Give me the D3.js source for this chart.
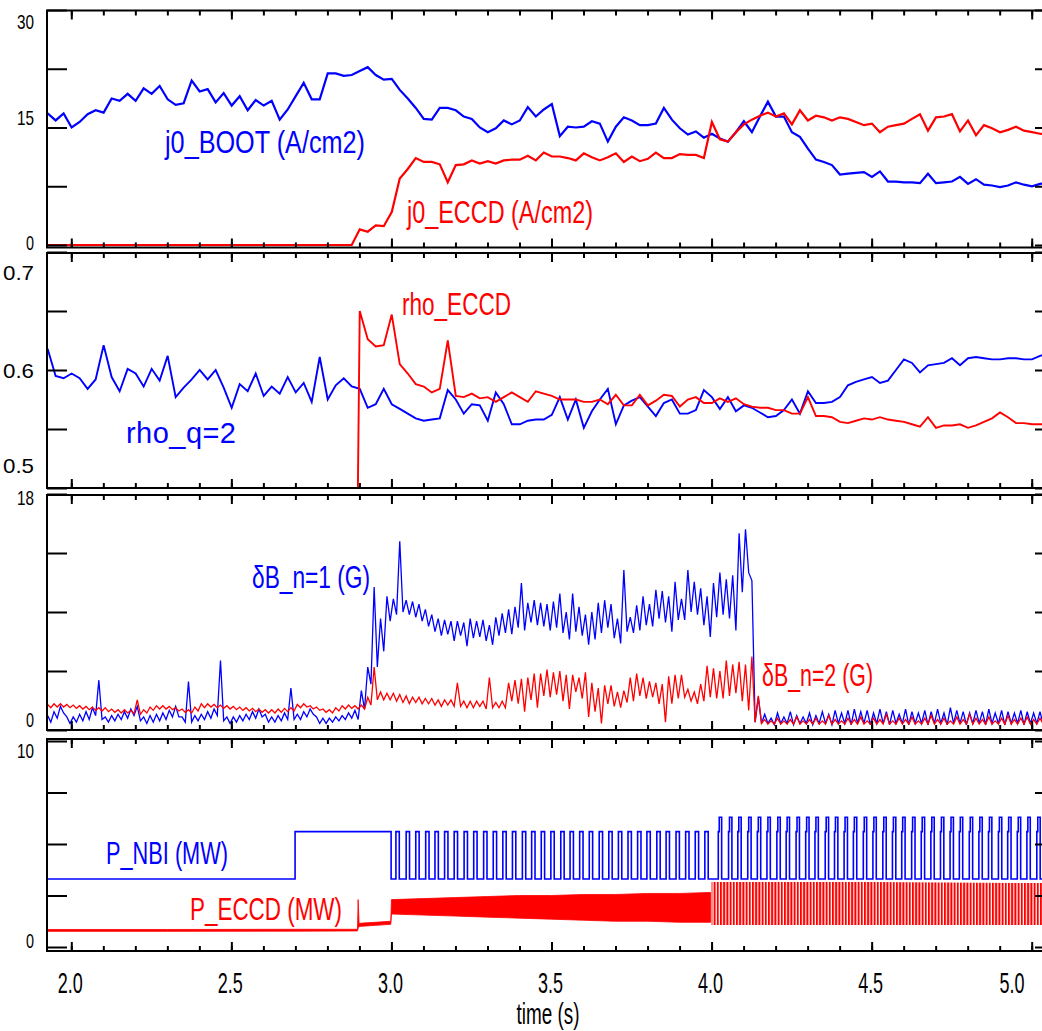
<!DOCTYPE html>
<html><head><meta charset="utf-8">
<script src="https://cdn.jsdelivr.net/npm/d3@7"></script>
<style>html,body{margin:0;padding:0;background:#fff;} svg{display:block;}</style>
</head><body>
<svg id="chart" width="1042" height="1031"></svg>
<script>
// ---------------- DATA ----------------
// slow diagnostics sampled every 25 ms starting at 1.926 s
const slowT0 = 1.926, slowDt = 0.025;
const j0Boot = [16.8,15.9,16.8,15.0,15.7,16.7,17.2,16.9,18.7,18.4,
 19.3,18.4,20.0,19.3,20.3,18.6,17.9,18.1,21.0,19.6,
 19.9,18.2,19.4,17.8,19.0,17.2,18.5,17.8,18.4,16.0,
 17.3,19.0,20.7,18.6,18.6,21.9,21.9,21.6,21.7,22.2,
 22.7,21.7,21.1,21.2,19.8,18.7,17.5,16.1,16.0,17.5,
 17.5,17.2,16.4,16.1,15.0,14.4,14.9,15.9,15.4,15.9,
 17.6,16.4,17.3,18.0,13.9,15.1,15.0,15.1,15.8,15.5,
 13.2,15.1,16.3,15.9,15.3,15.3,15.5,17.5,16.0,14.9,
 14.1,14.5,13.7,14.2,13.6,13.2,14.4,15.8,14.4,16.4,
 18.3,16.4,16.4,14.4,13.8,12.3,10.9,10.6,10.2,9.0,
 9.1,9.2,9.3,8.7,9.4,8.1,8.1,8.0,8.0,7.9,
 9.1,7.9,8.0,8.1,8.7,7.8,8.4,7.7,7.6,7.4,
 7.6,8.0,7.7,7.5,7.8,8.0,7.9];
const j0Eccd = [0,0,0,0,0,0,0,0,0,0, 0,0,0,0,0,0,0,0,0,0,
 0,0,0,0,0,0,0,0,0,0, 0,0,0,0,0,0,0,0,0,
 2.0,1.7,2.5,2.4,4.2,8.5,9.7,11.1,10.6,10.6,10.3,
 8.0,10.2,10.3,10.8,10.4,10.7,10.4,10.8,10.9,10.9,
 11.4,10.8,11.8,11.3,11.3,11.1,10.8,11.7,11.2,10.8,
 11.2,11.7,10.6,11.3,10.7,11.0,11.8,11.1,11.1,11.6,
 11.5,11.5,11.1,15.7,13.5,13.2,14.4,15.4,16.0,16.5,
 16.9,16.4,16.8,15.4,17.2,15.9,16.5,16.3,15.9,16.3,
 16.1,15.7,15.3,15.5,14.4,15.1,15.3,15.5,16.1,16.7,
 14.6,16.3,16.4,16.7,14.5,15.9,14.0,15.3,14.9,14.4,
 14.7,15.1,14.6,14.4,14.2,14.1,14.1];
const rhoQ2 = [0.618,0.595,0.593,0.597,0.593,0.584,0.592,0.621,0.594,0.582,
 0.601,0.597,0.586,0.601,0.591,0.612,0.577,0.585,0.592,0.600,
 0.592,0.600,0.585,0.568,0.588,0.582,0.597,0.578,0.586,0.580,
 0.594,0.581,0.589,0.573,0.611,0.575,0.587,0.593,0.586,0.584,
 0.568,0.571,0.584,0.571,0.567,0.563,0.559,0.557,0.558,0.559,
 0.583,0.575,0.563,0.571,0.570,0.557,0.581,0.571,0.554,0.554,
 0.557,0.558,0.558,0.562,0.577,0.558,0.575,0.551,0.565,0.575,
 0.584,0.554,0.570,0.574,0.577,0.569,0.561,0.572,0.575,0.563,
 0.563,0.566,0.583,0.577,0.567,0.577,0.565,0.570,0.568,0.564,
 0.560,0.561,0.566,0.575,0.563,0.582,0.572,0.572,0.573,0.577,
 0.587,0.590,0.592,0.594,0.589,0.591,0.600,0.609,0.606,0.598,
 0.604,0.605,0.606,0.610,0.604,0.610,0.611,0.610,0.609,0.609,
 0.610,0.610,0.609,0.609,0.612,0.614,0.614];
const rhoEccd = [0,0,0,0,0,0,0,0,0,0, 0,0,0,0,0,0,0,0,0,0,
 0,0,0,0,0,0,0,0,0,0, 0,0,0,0,0,0,0,0,0,
 0.650,0.626,0.620,0.621,0.647,0.605,0.597,0.588,0.586,0.581,0.584,
 0.625,0.578,0.577,0.580,0.576,0.577,0.573,0.577,0.581,0.577,
 0.573,0.582,0.580,0.578,0.575,0.575,0.575,0.573,0.573,0.575,
 0.571,0.579,0.570,0.570,0.579,0.570,0.574,0.579,0.578,0.569,
 0.575,0.577,0.572,0.572,0.576,0.573,0.576,0.571,0.569,0.568,
 0.568,0.566,0.566,0.563,0.563,0.577,0.561,0.561,0.560,0.556,
 0.555,0.557,0.559,0.558,0.560,0.558,0.557,0.556,0.554,0.552,
 0.560,0.551,0.553,0.553,0.554,0.551,0.553,0.556,0.559,0.564,
 0.560,0.555,0.555,0.554,0.554,0.554,0.554];

// magnetics: per-20 ms bin min / max, bins starting at 1.926 s
const binT0 = 1.926, binDt = 0.02;
const dbn1Lo = [0.6,0.9,1.3,0.5,0.6,0.7,0.8,1.1,0.8,0.6,
 0.7,0.8,0.9,1.1,0.7,0.5,0.6,0.7,0.8,1.0,
 1.0,0.6,0.6,0.7,0.8,0.9,1.1,0.7,0.5,0.6,
 0.7,0.8,0.9,1.0,0.6,0.6,0.7,0.8,0.8,0.8,
 1.0,1.2,0.5,0.5,0.6,0.7,0.8,0.9,0.8,1.6,
 3.5,4.8,6.0,8.3,8.8,9.0,8.8,8.6,8.3,7.9,
 7.5,7.2,7.3,6.8,7.2,6.4,7.0,7.1,6.8,6.5,
 7.2,7.4,7.3,7.8,7.6,8.2,8.0,7.9,7.6,7.8,
 7.4,6.9,7.5,7.2,6.5,6.9,7.4,7.8,7.0,6.6,
 7.5,7.4,7.6,8.0,7.9,8.5,8.2,7.5,8.4,8.4,
 9.0,8.8,8.0,7.1,8.6,8.8,8.5,7.6,10.5,12.0,
 0.6,0.5,0.5,0.4,0.5,0.5,0.4,0.5,0.5,0.4,
 0.5,0.5,0.4,0.5,0.5,0.4,0.5,0.5,0.4,0.5,
 0.5,0.4,0.5,0.5,0.4,0.5,0.5,0.4,0.5,0.5,
 0.4,0.5,0.5,0.4,0.5,0.5,0.4,0.5,0.5,0.4,
 0.5,0.5,0.4,0.5,0.5,0.4,0.5,0.5];
const dbn1Hi = [1.1,1.4,1.8,1.0,1.0,1.2,1.4,1.7,3.8,1.0,
 1.1,1.2,1.4,1.6,1.8,1.0,1.1,1.2,1.3,1.5,
 1.8,1.0,3.7,1.1,1.2,1.4,1.6,5.3,1.0,1.0,
 1.1,1.2,1.4,1.6,1.2,1.0,1.1,1.3,3.2,1.2,
 1.4,1.6,1.0,0.9,0.9,1.0,1.1,1.3,1.5,3.0,
 4.8,10.9,8.5,10.2,10.0,14.4,9.9,9.8,9.6,9.2,
 8.8,8.5,8.4,8.3,8.3,8.2,8.5,8.3,8.4,8.0,
 8.6,8.9,9.2,9.4,11.2,9.7,9.9,9.7,9.6,9.8,
 10.4,9.0,10.4,9.4,8.8,9.0,9.7,9.9,9.6,8.5,
 12.2,8.6,9.5,10.2,9.6,10.7,10.6,10.2,11.3,10.0,
 12.2,11.3,10.8,10.2,11.2,12.0,11.5,11.8,15.0,15.3,
 11.4,2.5,1.2,0.9,1.3,1.0,1.4,1.1,1.0,1.3,
 1.1,1.4,1.2,1.5,1.3,1.5,1.6,1.4,1.5,1.3,
 1.6,1.4,1.5,1.2,1.6,1.4,1.3,1.5,1.4,1.6,
 1.3,1.7,1.5,1.4,1.3,1.5,1.4,1.6,1.3,1.5,
 1.4,1.3,1.5,1.4,1.3,1.4,1.3,1.4];
const dbn2Lo = [1.7,1.75,1.75,1.7,1.65,1.6,1.55,1.5,1.45,1.4,
 1.35,1.3,1.3,1.25,1.2,1.3,1.5,1.6,1.6,1.55,
 1.45,1.35,1.3,1.45,1.7,1.75,1.7,1.65,1.6,1.55,
 1.5,1.45,1.4,1.35,1.3,1.3,1.35,1.4,1.45,1.7,
 1.75,1.6,1.5,1.35,1.3,1.45,1.6,1.65,1.6,1.6,
 1.9,2.3,2.3,2.3,2.2,2.1,2.0,2.1,2.0,2.0,
 1.9,1.8,1.9,1.8,1.8,1.7,1.7,1.8,1.6,1.7,
 1.7,1.7,2.2,2.0,1.4,2.3,1.7,2.6,2.5,2.7,
 2.2,1.6,2.9,2.4,1.0,1.4,0.5,2.0,1.8,1.7,
 2.1,2.2,2.6,2.4,2.5,2.0,0.6,2.0,2.4,2.5,
 2.2,2.0,2.2,2.5,2.4,2.4,2.6,2.8,2.2,1.5,
 0.6,0.5,0.45,0.45,0.45,0.45,0.45,0.45,0.45,0.45,
 0.45,0.45,0.45,0.45,0.45,0.45,0.45,0.45,0.45,0.45,
 0.45,0.45,0.45,0.45,0.45,0.45,0.45,0.45,0.45,0.45,
 0.45,0.45,0.45,0.45,0.45,0.45,0.45,0.45,0.45,0.45,
 0.45,0.45,0.45,0.45,0.45,0.45,0.45,0.45];
const dbn2Hi = [1.95,2.0,2.0,1.95,1.9,1.85,1.8,1.75,1.7,1.7,
 1.6,1.55,1.55,1.5,2.3,1.55,1.75,1.85,1.85,1.8,
 1.7,1.6,1.55,1.75,2.0,2.0,1.95,1.9,1.85,1.8,
 1.75,1.7,1.65,1.6,1.55,1.55,1.6,1.65,1.7,1.95,
 2.0,1.85,1.75,1.6,1.55,1.7,1.85,1.9,1.85,1.9,
 2.5,4.8,2.9,2.8,2.8,2.7,2.6,2.5,2.5,2.4,
 2.4,2.3,2.3,2.3,3.6,2.2,2.2,2.2,2.2,4.0,
 2.1,2.2,3.6,3.8,3.9,4.0,4.3,4.3,4.6,4.4,
 4.5,4.2,4.2,4.0,4.4,3.6,3.2,3.4,3.4,2.9,
 3.0,4.0,4.3,4.0,3.7,3.6,3.5,4.1,4.2,4.2,
 3.1,2.9,3.5,4.9,4.7,4.5,5.3,5.0,5.2,5.0,
 5.6,2.6,0.8,0.7,0.9,0.7,0.8,1.0,0.7,0.8,
 0.9,0.7,1.1,0.8,0.7,0.9,0.8,1.0,0.7,0.9,
 0.8,1.2,0.7,0.9,0.8,1.0,0.7,0.9,1.1,0.8,
 0.9,0.7,1.0,0.8,1.2,0.9,0.8,1.0,0.7,0.9,
 1.1,0.8,0.9,1.0,0.8,0.9,0.8,0.9];

// heating powers
const nbiStepT = [1.926, 2.699, 2.999];
const nbiStepV = [3.3, 5.6, 3.3];
const nbiLow = 3.3, nbiOn = 5.6, nbiTop = 6.3;
const nbiPulseOn = 0.0105, nbiShoulder = 0.003;
const nbiRiseA = [3.014,3.046,3.076,3.107,3.136,3.166,3.196,3.227,3.257,3.288,
 3.318,3.348,3.378,3.409,3.438,3.468,3.498,3.529,3.558,3.588,
 3.618,3.649,3.679,3.709,3.739,3.769,3.798,3.829,3.858,3.889,
 3.919,3.949,3.979];
const nbiRiseB = [4.021,4.053,4.082,4.113,4.143,4.173,4.204,4.233,4.264,4.294,
 4.323,4.355,4.384,4.414,4.443,4.474,4.504,4.535,4.565,4.594,
 4.625,4.655,4.685,4.715,4.745,4.774,4.805,4.835,4.865,4.896,
 4.925,4.955,4.985,5.016,5.046];
const eccdT  = [1.926,2.3,2.7,2.894,2.896,2.899,2.95,2.998,3.0,3.1,3.2,3.3,3.4,3.5,3.6,3.7,3.8,3.9,3.997,
                4.0,4.5,5.08];
const eccdLo = [0.76,0.76,0.77,0.78,0.90,1.00,1.05,1.10,1.60,1.55,1.50,1.45,1.40,1.35,1.30,1.25,1.25,1.20,1.20,
                1.07,1.07,1.07];
const eccdHi = [0.85,0.85,0.86,0.86,2.30,1.15,1.20,1.25,2.30,2.35,2.40,2.45,2.50,2.50,2.55,2.55,2.60,2.60,2.65,
                3.15,3.15,3.10];
const eccdModStart = 4.0;

const xTickLabels = ["2.0","2.5","3.0","3.5","4.0","4.5","5.0"];
const p1Ticks = [0,7.5,15,22.5,30],  p1Labels = [[0,"0"],[15,"15"],[30,"30"]];
const p2Ticks = [0.5,0.55,0.6,0.65,0.7], p2Labels = [[0.5,"0.5"],[0.6,"0.6"],[0.7,"0.7"]];
const p3Ticks = [0,4.5,9,13.5,18],  p3Labels = [[0,"0"],[18,"18"]];
const p4Ticks = [0,2.5,5,7.5,10],   p4Labels = [[0,"0"],[10,"10"]];

// ---------------- LAYOUT ----------------
const BLUE = "#0000ff", RED = "#ff0000";
const FONT = "'Liberation Sans', Arial, sans-serif";
const L = 47, R = 1055;
const x = d3.scaleLinear().domain([2, 5]).range([71.3, 1031.7]);
const tMin = x.invert(L), tMax = x.invert(R);

const svg = d3.select("#chart");
const defs = svg.append("defs");
const pat = defs.append("pattern").attr("id","mod").attr("patternUnits","userSpaceOnUse")
  .attr("width",3.2).attr("height",20);
pat.append("rect").attr("width",2).attr("height",20).attr("fill",RED);

// text with a fitted width (the reference uses a narrow face)
function txt(g, s, px, py, o) {
  g.append("text").attr("x", px).attr("y", py)
   .attr("font-family", FONT).attr("font-size", o.fs).attr("fill", o.color || "#000")
   .attr("text-anchor", o.anchor || "start")
   .attr("textLength", o.w).attr("lengthAdjust", o.adj || "spacingAndGlyphs").text(s);
}

const panels = [
  {top: 10.5, bot: 247.5, dom: [0,30],  rng: [245,10],  ticks: p1Ticks, labels: p1Labels, lOff: {0:5, 15:-3, 30:19}},
  {top: 253,  bot: 488, dom: [0.5,0.7], rng: [488,252], ticks: p2Ticks, labels: p2Labels, lOff: {0.5:-15, 0.6:8, 0.7:28}},
  {top: 495,  bot: 730, dom: [0,18],    rng: [730,494], ticks: p3Ticks, labels: p3Labels, lOff: {0:-3, 18:11}},
  {top: 739,  bot: 951, dom: [0,10],    rng: [947,741], ticks: p4Ticks, labels: p4Labels, lOff: {0:1, 10:17}}
];

const minor = x.ticks(31).filter(t => t > tMin && t < tMax);
const major = xTickLabels.map(Number);

panels.forEach((p, i) => {
  p.y = d3.scaleLinear().domain(p.dom).range(p.rng);
  const cid = "clip" + i;
  defs.append("clipPath").attr("id", cid).append("rect")
    .attr("x", L).attr("y", p.top).attr("width", R - L).attr("height", p.bot - p.top);
  p.g = svg.append("g");
  p.plot = p.g.append("g").attr("clip-path", `url(#${cid})`);
  p.axes = svg.append("g");
});

function drawAxes(p) {
  const g = p.axes;
  [[minor, 5], [major, 9]].forEach(([vals, len]) => {
    g.append("g").attr("transform", `translate(0,${p.bot})`)
      .call(d3.axisBottom(x).tickValues(vals).tickSize(-len).tickFormat(""))
      .call(a => a.select(".domain").remove());
    g.append("g").attr("transform", `translate(0,${p.top})`)
      .call(d3.axisTop(x).tickValues(vals).tickSize(-len).tickFormat(""))
      .call(a => a.select(".domain").remove());
  });
  g.append("g").attr("transform", `translate(${L},0)`)
    .call(d3.axisLeft(p.y).tickValues(p.ticks).tickSize(-20).tickFormat(""))
    .call(a => a.select(".domain").remove());
  g.append("g").attr("transform", `translate(${R},0)`)
    .call(d3.axisRight(p.y).tickValues(p.ticks).tickSize(-20).tickFormat(""))
    .call(a => a.select(".domain").remove());
  g.selectAll(".tick line").attr("stroke", "#000").attr("stroke-width", 2);
  g.append("rect").attr("x", L).attr("y", p.top).attr("width", R - L).attr("height", p.bot - p.top)
    .attr("fill", "none").attr("stroke", "#000").attr("stroke-width", 2);
  p.labels.forEach(([v, s]) => {
    const w = s.length === 1 ? 8 : (s.length === 2 ? 17 : 31);
    txt(g, s, 34, p.y(v) + p.lOff[v], {fs: 21, w, anchor: "end"});
  });
}

const slow = arr => arr.map((v, i) => [slowT0 + i * slowDt, v]);
const zig = (lo, hi) => {
  const n = Math.min(lo.length, hi.length), pts = [];
  for (let k = 0; k < n; k++) {
    const t = binT0 + k * binDt;
    pts.push([t, hi[k]], [t + binDt / 2, lo[k]]);
  }
  return pts;
};

// ---- panel 1 ----
{
  const p = panels[0];
  const line = d3.line().x(d => x(d[0])).y(d => p.y(d[1]));
  p.plot.append("path").attr("d", line(slow(j0Boot))).attr("fill","none").attr("stroke",BLUE).attr("stroke-width",2.2);
  p.plot.append("path").attr("d", line(slow(j0Eccd))).attr("fill","none").attr("stroke",RED).attr("stroke-width",2.2);
  txt(p.g, "j0_BOOT (A/cm2)", 165, 153, {fs: 31, w: 200, color: BLUE});
  txt(p.g, "j0_ECCD (A/cm2)", 407, 223, {fs: 31, w: 186, color: RED});
}
// ---- panel 2 ----
{
  const p = panels[1];
  const line = d3.line().x(d => x(d[0])).y(d => p.y(d[1]));
  p.plot.append("path").attr("d", line(slow(rhoQ2))).attr("fill","none").attr("stroke",BLUE).attr("stroke-width",1.9);
  p.plot.append("path").attr("d", line(slow(rhoEccd))).attr("fill","none").attr("stroke",RED).attr("stroke-width",1.9);
  txt(p.g, "rho_ECCD", 402, 315, {fs: 31, w: 109, color: RED});
  txt(p.g, "rho_q=2", 126, 443, {fs: 29, w: 110, color: BLUE, adj: "spacing"});
}
// ---- panel 3 ----
{
  const p = panels[2];
  const line = d3.line().x(d => x(d[0])).y(d => p.y(d[1]));
  p.plot.append("path").attr("d", line(zig(dbn1Lo, dbn1Hi))).attr("fill","none").attr("stroke",BLUE).attr("stroke-width",1.3);
  p.plot.append("path").attr("d", line(zig(dbn2Lo, dbn2Hi))).attr("fill","none").attr("stroke",RED).attr("stroke-width",1.3);
  txt(p.g, "\u03b4B_n=1 (G)", 252, 588, {fs: 31, w: 118, color: BLUE});
  txt(p.g, "\u03b4B_n=2 (G)", 762, 686, {fs: 31, w: 111, color: RED});
}
// ---- panel 4 ----
{
  const p = panels[3];
  const env = eccdT.map((t, i) => ({t, lo: eccdLo[i], hi: eccdHi[i]}));
  const area = d3.area().x(d => x(d.t)).y0(d => p.y(d.lo)).y1(d => p.y(d.hi));
  const solid = env.filter(d => d.t <= eccdModStart - 0.001);
  const mod = env.filter(d => d.t >= eccdModStart);
  p.plot.append("path").attr("d", area(solid)).attr("fill", RED).attr("stroke", RED).attr("stroke-width", 0.8);
  p.plot.append("path").attr("d", area(mod)).attr("fill", "url(#mod)").attr("stroke", "none");

  const pts = nbiStepT.map((t, i) => [t, nbiStepV[i]]);
  nbiRiseA.forEach(r => { pts.push([r, nbiOn], [r + nbiPulseOn, nbiLow]); });
  nbiRiseB.forEach(r => { pts.push([r, nbiOn], [r + nbiShoulder, nbiTop], [r + nbiPulseOn, nbiLow]); });
  pts.push([tMax, nbiLow]);
  const step = d3.line().curve(d3.curveStepAfter).x(d => x(d[0])).y(d => p.y(d[1]));
  p.plot.append("path").attr("d", step(pts)).attr("fill","none").attr("stroke",BLUE).attr("stroke-width",1.6);

  txt(p.g, "P_NBI (MW)", 106, 864, {fs: 31, w: 122, color: BLUE});
  txt(p.g, "P_ECCD (MW)", 190, 920, {fs: 31, w: 152, color: RED});
  major.forEach((v, i) => txt(svg, xTickLabels[i], Math.min(x(v) - 1, 1012), 993, {fs: 30, w: 25, anchor: "middle"}));
  txt(svg, "time (s)", 548, 1024, {fs: 30, w: 63, anchor: "middle"});
}
panels.forEach(drawAxes);
</script></body></html>
